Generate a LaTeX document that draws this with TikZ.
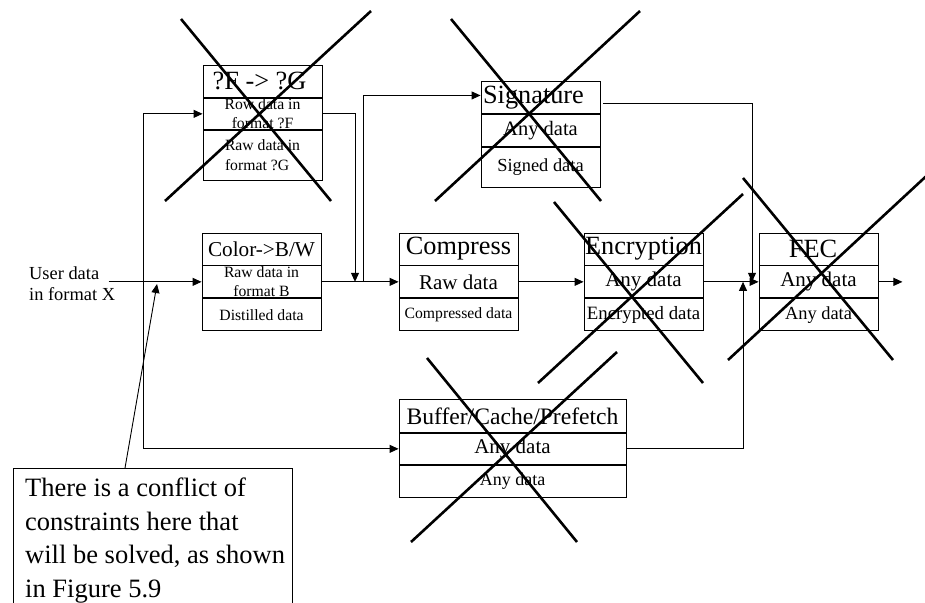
\documentclass[tikz,border=0pt]{standalone}
\usepackage{fontspec}
\setmainfont{Liberation Serif}
\usetikzlibrary{arrows.meta,calc}

\begin{document}
\begin{tikzpicture}[x=1pt,y=-1pt,
  wire/.style={line width=0.9pt},
  arr/.style={wire,-{Triangle[length=9pt,width=8pt]}},
  cell/.style={draw,line width=0.9pt,inner sep=0pt,anchor=north,align=center,minimum width=119pt},
  wide/.style={minimum width=227pt},
  cross/.style={line width=2.6pt},
  fA/.style={font=\fontsize{26.3}{29}\selectfont},
  fT/.style={font=\fontsize{21.2}{24}\selectfont},
  fB/.style={font=\fontsize{21}{24}\selectfont},
  fC/.style={font=\fontsize{18.4}{21}\selectfont},
  fD/.style={font=\fontsize{15.7}{19.5}\selectfont},
]
\useasboundingbox (0,0) rectangle (925,602);
\begin{scope}
\clip (0,0) rectangle (925,602);

% ---- ?F -> ?G ----
\node[cell,fA,minimum height=32pt] (fg1) at (262.5,65) {?F -> ?G\hspace{6pt}};
\node[cell,fD,minimum height=31pt] (fg2) at (fg1.south) {Row data in\\format ?F};
\node[cell,fD,minimum height=50pt,align=left] (fg3) at (fg2.south) {Raw data in\\format ?G};

% ---- Signature ----
\node[cell,fA,minimum height=32pt] (sg1) at (540.5,81) {Signature\hspace{14pt}};
\node[cell,font=\fontsize{20.5}{24}\selectfont,minimum height=32pt] (sg2) at (sg1.south) {Any data};
\node[cell,fC,minimum height=40pt] (sg3) at (sg2.south) {Signed data};

% ---- Color->B/W ----
\node[cell,fT,minimum height=32pt] (c1) at (261.5,232.5) {Color->B/W};
\node[cell,fD,minimum height=32pt] (c2) at (c1.south) {Raw data in\\format B};
\node[cell,fD,minimum height=32pt] (c3) at (c2.south) {Distilled data};

% ---- Compress ----
\node[cell,fA,minimum height=32pt] (cp1) at (458.5,232.5) {Compress};
\node[cell,fB,minimum height=32pt] (cp2) at (cp1.south) {Raw data};
\node[cell,fD,minimum height=32pt] (cp3) at (cp2.south) {Compressed data};

% ---- Encryption ----
\node[cell,fA,minimum height=32pt] (en1) at (643.5,232.5) {Encryption};
\node[cell,fB,minimum height=32pt] (en2) at (en1.south) {Any data};
\node[cell,font=\fontsize{18.8}{21}\selectfont,minimum height=32pt] (en3) at (en2.south) {Encrypted data};

% ---- FEC ----
\node[cell,fA,minimum height=32pt] (fe1) at (818.5,232.5) {FEC\hspace{11pt}};
\node[cell,fB,minimum height=32pt] (fe2) at (fe1.south) {Any data};
\node[cell,fC,minimum height=32pt] (fe3) at (fe2.south) {Any data};

% ---- Buffer/Cache/Prefetch ----
\node[cell,wide,font=\fontsize{23.6}{27}\selectfont,minimum height=33pt] (bf1) at (512.5,399) {Buffer/Cache/Prefetch};
\node[cell,wide,fB,minimum height=31pt] (bf2) at (bf1.south) {Any data};
\node[cell,wide,font=\fontsize{18}{21}\selectfont,minimum height=32pt] (bf3) at (bf2.south) {Any data};

% ---- input label ----
\node[align=left,anchor=west,inner sep=0pt,fC] (user) at (29,284) {User data\\in format X};
\coordinate (src) at ([xshift=-93pt]c2.west);

% ---- note ----
\node[draw,line width=0.9pt,anchor=north west,minimum width=279pt,minimum height=150pt,inner sep=0pt] (note) at (13,468) {};
\node[anchor=north west,inner sep=0pt,align=left,font=\fontsize{26.5}{33.5}\selectfont] (notetext) at (25,478)
  {There is a conflict of\\constraints here that\\will be solved, as shown\\in Figure 5.9};
\coordinate (hit) at (157,284);
\coordinate (notetop) at ($(note.north west)+(112,0)$);

% ---- routing columns ----
\coordinate (split) at (143,0);
\coordinate (drop) at (355,0);
\coordinate (tap) at (363,0);
\coordinate (merge2) at (743,0);
\coordinate (merge1) at (752,0);
\coordinate (sgout) at ([xshift=3pt,yshift=-6pt]sg1.east);
\coordinate (out) at ([xshift=24pt]fe2.east);

% ---- connectors ----
\draw[arr] (src) -- (c2.west);
\draw[arr] (bf2.west -| split) -- (fg2.west -| split) -- (fg2.west);
\draw[arr] (bf2.west -| split) -- (bf2.west);
\draw[arr] (fg2.east) -| (drop |- c2.east);
\draw[arr] (c2.east) -- (cp2.west);
\draw[arr] (tap |- c2.east) |- ([yshift=2pt]sg1.west);
\draw[arr] (cp2.east) -- (en2.west);
\draw[arr] (en2.east) -- (fe2.west);
\draw[arr] (fe2.east) -- (out);
\draw[arr] (sgout) -| (merge1 |- en2.east);
\draw[arr] (bf2.east) -| (merge2 |- en2.east);
\draw[arr] (notetop) -- (hit);

% ---- strike-outs ----
\draw[cross] (181,19) -- (331,201) (371,11) -- (165,201);
\draw[cross] (451,19) -- (601,201) (640,11) -- (435,201);
\draw[cross] (554,202) -- (703,383) (743,194) -- (538,383);
\draw[cross] (743,178) -- (893,360) (935,168) -- (728,360);
\draw[cross] (427,358) -- (577,542) (617,352) -- (411,542);
\end{scope}
\end{tikzpicture}
\end{document}
